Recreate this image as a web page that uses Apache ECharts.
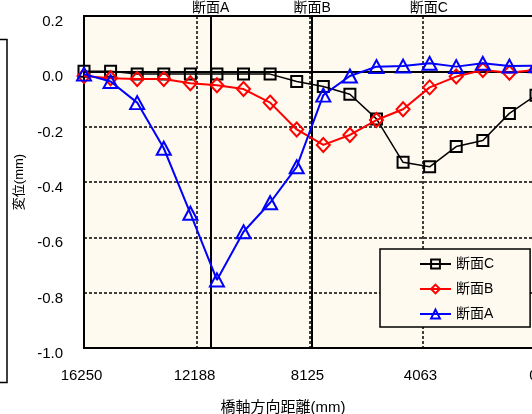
<!DOCTYPE html>
<html>
<head>
<meta charset="utf-8">
<script src="https://cdn.jsdelivr.net/npm/echarts@6/dist/echarts.min.js"></script>
<style>html,body{margin:0;padding:0;background:#fff;}#c{width:532px;height:414px;}</style>
</head>
<body>
<div id="c"></div>
<script>
// distance along bridge axis (mm)
const xValues = [16250, 15294, 14338, 13382, 12426, 11471, 10515, 9559, 8603, 7647, 6691, 5735, 4779, 3824, 2868, 1912, 956, 0];
// displacement (mm)
const sectionC = [0.0, 0.0, -0.01, -0.01, -0.01, -0.01, -0.01, -0.01, -0.037, -0.055, -0.083, -0.172, -0.329, -0.345, -0.272, -0.25, -0.152, -0.086];
const sectionB = [-0.017, -0.025, -0.028, -0.028, -0.043, -0.05, -0.064, -0.113, -0.21, -0.266, -0.23, -0.176, -0.137, -0.058, -0.019, 0.005, -0.005, 0.005];
const sectionA = [-0.01, -0.037, -0.113, -0.278, -0.513, -0.754, -0.58, -0.475, -0.345, -0.086, -0.017, 0.017, 0.019, 0.029, 0.017, 0.029, 0.019, 0.02];
const seriesNames = ['断面C', '断面B', '断面A'];
// section marker positions (mm)
const sectionLines = [
  { name: '断面A', x: 11694, solid: true },
  { name: '断面B', x: 8050, solid: true },
  { name: '断面C', x: 3850, solid: false }
];
const xTickLabels = { 0: '0', 4063: '4063', 8125: '8125', 12188: '12188', 16250: '16250' };

const FONT = "'Liberation Sans', Arial, 'Noto Sans CJK JP', sans-serif";
const CREAM = '#FEFAEF';

function pairs(ys) { return xValues.map((x, i) => [x, ys[i]]); }

const chart = echarts.init(document.getElementById('c'), null, { renderer: 'canvas' });
chart.setOption({
  animation: false,
  backgroundColor: '#fff',
  textStyle: { fontFamily: FONT, color: '#000' },
  grid: {
    left: 84, top: 16, right: -4, bottom: 66,
    outerBoundsMode: 'none', containLabel: false,
    show: true, backgroundColor: CREAM, borderColor: '#000', borderWidth: 2
  },
  legend: {
    data: seriesNames,
    orient: 'vertical',
    left: 380, top: 249,
    backgroundColor: CREAM,
    borderColor: '#000', borderWidth: 1.5, borderRadius: 0,
    padding: [8, 36, 6, 39],
    itemWidth: 31, itemHeight: 11, itemGap: 11,
    textStyle: { fontSize: 14, color: '#000', fontFamily: FONT }
  },
  xAxis: {
    type: 'value', min: 0, max: 16250, interval: 4062.5, inverse: true,
    name: '橋軸方向距離(mm)', nameLocation: 'middle', nameGap: 52,
    nameTextStyle: { fontSize: 15, color: '#000', fontFamily: FONT, padding: [0, 54, 0, 0] },
    axisLine: { show: false }, axisTick: { show: false },
    axisLabel: {
      margin: 20, fontSize: 15, color: '#000', fontFamily: FONT,
      hideOverlap: false, padding: [0, 5, 0, 0],
      formatter: v => xTickLabels[Math.round(v)] ?? String(Math.round(v))
    },
    splitLine: { show: true, lineStyle: { color: '#000', width: 1.5, type: [3, 2] } }
  },
  yAxis: {
    type: 'value', min: -1.0, max: 0.2, interval: 0.2,
    name: '変位(mm)', nameLocation: 'middle', nameGap: 58,
    nameTextStyle: { fontSize: 13, color: '#000', fontFamily: FONT },
    axisLine: { show: false }, axisTick: { show: false },
    axisLabel: {
      margin: 21, fontSize: 15, color: '#000', fontFamily: FONT,
      verticalAlign: 'top', lineHeight: 12,
      formatter: v => (Math.abs(v) < 1e-9 ? '0.0' : v.toFixed(1))
    },
    splitLine: { show: true, lineStyle: { color: '#000', width: 1.5, type: [3, 2] } }
  },
  series: [
    {
      name: '断面C', type: 'line', data: pairs(sectionC), z: 3,
      symbol: 'rect', symbolSize: 11,
      lineStyle: { color: '#000', width: 1.5 },
      itemStyle: { color: 'rgba(0,0,0,0)', borderColor: '#000', borderWidth: 2 },
      markLine: {
        silent: true, symbol: ['none', 'none'], z: 1,
        data: [
          { yAxis: 0, lineStyle: { color: '#000', width: 2, type: 'solid' }, label: { show: false } }
        ].concat(sectionLines.map(s => ({
          xAxis: s.x, name: s.name,
          lineStyle: { color: s.solid ? '#000' : 'rgba(0,0,0,0)', width: 2, type: 'solid' },
          label: { show: true, position: 'end', distance: 1, formatter: '{b}', fontSize: 14, color: '#000', fontFamily: FONT }
        })))
      }
    },
    {
      name: '断面B', type: 'line', data: pairs(sectionB), z: 4,
      symbol: 'diamond', symbolSize: [13, 14],
      lineStyle: { color: '#FF0000', width: 2 },
      itemStyle: { color: 'rgba(0,0,0,0)', borderColor: '#FF0000', borderWidth: 2 }
    },
    {
      name: '断面A', type: 'line', data: pairs(sectionA), z: 5,
      symbol: 'triangle', symbolSize: [14, 13],
      lineStyle: { color: '#0000FF', width: 2 },
      itemStyle: { color: 'rgba(0,0,0,0)', borderColor: '#0000FF', borderWidth: 2 }
    }
  ],
  graphic: [
    { type: 'rect', silent: true, shape: { x: -50, y: 39.5, width: 57, height: 343 },
      style: { fill: 'none', stroke: '#000', lineWidth: 1.5 } }
  ]
});
</script>
</body>
</html>
